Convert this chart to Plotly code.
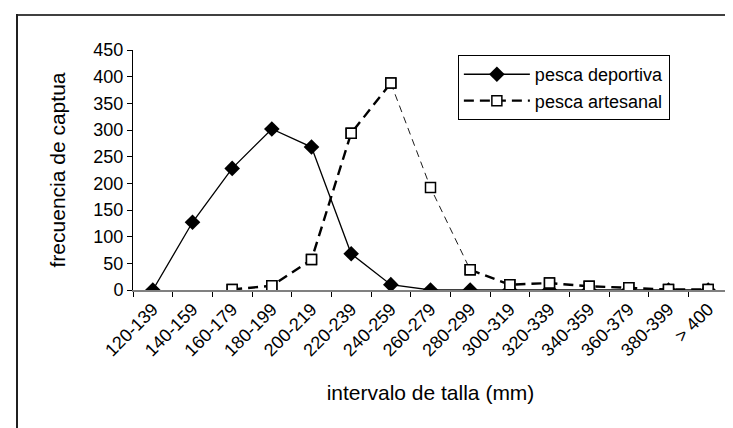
import plotly.graph_objects as go

categories = ["120-139", "140-159", "160-179", "180-199", "200-219", "220-239",
              "240-259", "260-279", "280-299", "300-319", "320-339", "340-359",
              "360-379", "380-399", "> 400"]
deportiva = [0, 127, 228, 302, 268, 68, 10, 0, 0, 0, 0, 0, 0, 0, 0]
artesanal = [None, None, 1, 8, 57, 294, 388, 192, 38, 10, 13, 7, 4, 1, 1]
y_ticks = [0, 50, 100, 150, 200, 250, 300, 350, 400, 450]

FONT = "Liberation Sans, Arial, sans-serif"

# thin section of the artesanal line (descent after the peak)
thin_idx = {6, 7, 8}
art_thick = [None if i == 7 else v for i, v in enumerate(artesanal)]
art_thin = [v if i in thin_idx else None for i, v in enumerate(artesanal)]

fig = go.Figure()
fig.add_trace(go.Scatter(
    x=categories, y=deportiva, name="pesca deportiva", mode="lines+markers",
    line=dict(color="black", width=1.3),
    marker=dict(symbol="diamond", size=12, color="black"),
))
fig.add_trace(go.Scatter(
    x=categories, y=art_thin, showlegend=False, mode="lines",
    line=dict(color="black", width=0.9, dash="7px,5px"), hoverinfo="skip",
))
fig.add_trace(go.Scatter(
    x=categories, y=art_thick, name="pesca artesanal", mode="lines+markers",
    connectgaps=False,
    line=dict(color="black", width=2.4, dash="10px,6px"),
    marker=dict(symbol="square", size=10, color="white",
                line=dict(color="black", width=1.5)),
))
# white squares on top of every artesanal point
fig.add_trace(go.Scatter(
    x=categories, y=artesanal, showlegend=False, mode="markers",
    marker=dict(symbol="square", size=10, color="white",
                line=dict(color="black", width=1.5)), hoverinfo="skip",
))

fig.update_layout(
    width=733, height=428,
    margin=dict(l=125, r=13, t=42, b=146),
    paper_bgcolor="white", plot_bgcolor="white",
    font=dict(family=FONT, color="black", size=17),
    showlegend=True,
    legend=dict(x=0.546, y=0.979, xanchor="left", yanchor="top",
                bordercolor="black", borderwidth=1, bgcolor="white",
                font=dict(size=18, family=FONT), itemwidth=66,
                tracegroupgap=2),
    xaxis=dict(
        type="category", range=[-0.5, 14.5], automargin=False,
        showline=True, linecolor="#808080", linewidth=1.5,
        ticks="outside", tickson="boundaries", ticklen=5, tickcolor="black",
        tickangle=-45, tickfont=dict(size=18, family=FONT),
        showgrid=False, zeroline=False,
        title=dict(text="intervalo de talla (mm)", font=dict(size=21, family=FONT),
                   standoff=26),
    ),
    yaxis=dict(
        range=[0, 450], tickvals=y_ticks, automargin=False,
        showline=True, linecolor="black", linewidth=1,
        ticks="outside", ticklen=5, tickcolor="black",
        tickfont=dict(size=18, family=FONT),
        showgrid=False, zeroline=False,
        title=dict(text="frecuencia de captua", font=dict(size=21, family=FONT),
                   standoff=22),
    ),
    shapes=[
        dict(type="line", xref="paper", yref="paper",
             x0=-116/595, x1=2, y0=275/240, y1=275/240,
             line=dict(color="#404040", width=2)),
        dict(type="line", xref="paper", yref="paper",
             x0=-116/595, x1=-116/595, y0=276/240, y1=-2,
             line=dict(color="#202020", width=2)),
    ],
)

fig.write_html("out.html")
